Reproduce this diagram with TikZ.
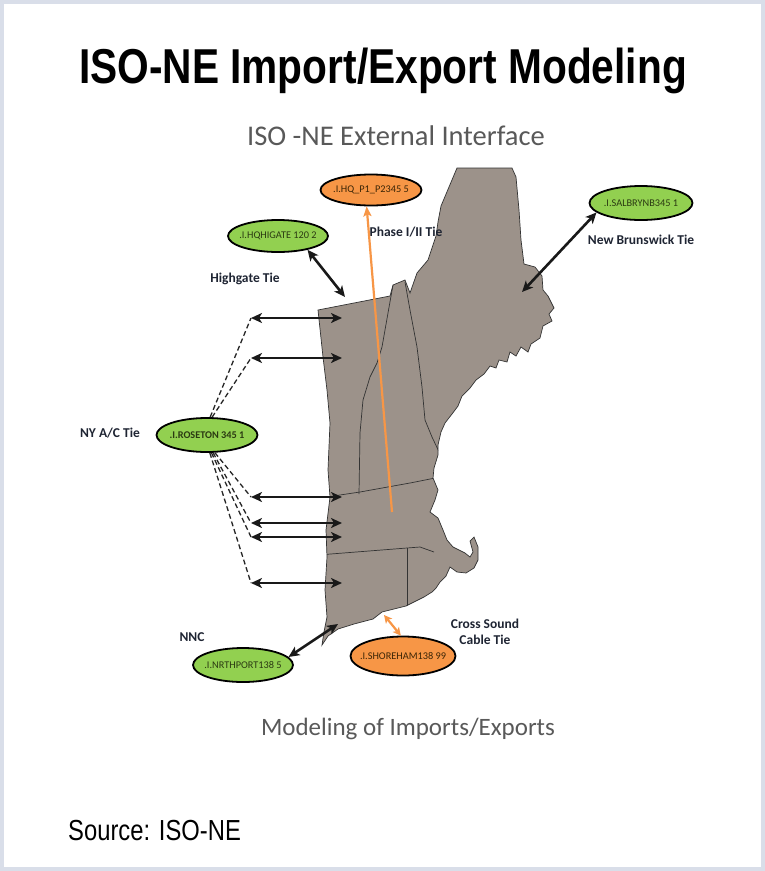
\documentclass[tikz,border=0pt]{standalone}
\usepackage{graphicx}
\usepackage{fontspec}
\setmainfont{Carlito}
\newfontfamily\arialfont{Liberation Sans}
\usetikzlibrary{shapes.geometric,arrows.meta}
\definecolor{framec}{HTML}{D9DEE9}
\definecolor{mapfill}{HTML}{9C928A}
\definecolor{grn}{HTML}{92D050}
\definecolor{org}{HTML}{F79646}
\definecolor{lbl}{HTML}{1F2533}
\definecolor{subc}{HTML}{595959}
\definecolor{gtext}{HTML}{2B3A12}
\definecolor{otext}{HTML}{3B2506}
\def\mapoutline{(318,310) -- (390,296) -- (393,285) -- (405,280) -- (410,293) -- (417,273) -- (428,260) -- (436,236) -- (438,222) -- (441,206) -- (449,187) -- (457,168) -- (512,168) -- (516,177) -- (519,210) -- (521,240) -- (524,264) -- (535,267) -- (542,276) -- (543,290) -- (548,296) -- (554,308) -- (549,314) -- (552,321) -- (543,326) -- (540,338) -- (531,344) -- (528,352) -- (521,347) -- (516,356) -- (510,352) -- (507,362) -- (499,360) -- (496,368) -- (490,366) -- (484,374) -- (476,380) -- (470,388) -- (462,396) -- (458,406) -- (452,414) -- (445,423) -- (441,432) -- (438,445) -- (438,455) -- (434,468) -- (433,478) -- (438,490) -- (435,500) -- (430,512) -- (438,518) -- (443,530) -- (447,540) -- (453,547) -- (465,553) -- (470,557) -- (473,552) -- (470,541) -- (474,537) -- (478,547) -- (478,560) -- (474,568) -- (466,573) -- (457,572) -- (450,567) -- (446,576) -- (440,582) -- (436,588) -- (432,592) -- (424,597) -- (414,602) -- (406,606) -- (394,609) -- (382,612) -- (373,619) -- (354,624) -- (338,629) -- (328,636) -- (322,645) -- (324,632) -- (327,617) -- (325,590) -- (327,557) -- (326,530) -- (330,497) -- (328,470) -- (330,423) -- (327,390) -- (323,357) -- cycle}
\tikzset{
  ell/.style={ellipse, draw=black, line width=1.8pt, inner sep=0pt, font=\fontsize{10.3}{11}\selectfont},
  gell/.style={ell, fill=grn, text=gtext, minimum width=100pt, minimum height=33pt},
  oell/.style={ell, fill=org, text=otext, minimum width=101pt, minimum height=31pt},
  lab/.style={font=\bfseries\fontsize{13.5}{15.5}\selectfont, text=lbl, align=center, inner sep=0pt},
  blk/.style={line width=2.6pt, black!90, {Stealth[length=11pt,width=10pt,inset=3pt]}-{Stealth[length=11pt,width=10pt,inset=3pt]}},
  dsh/.style={line width=1.3pt, black!85, dash pattern=on 5pt off 3pt},
  orgline/.style={line width=2.2pt, org},
  border/.style={line width=0.7pt, black!80}
}
\begin{document}
\begin{tikzpicture}[x=1pt,y=-1pt]
\useasboundingbox (0,0) rectangle (765,871);
\fill[framec] (0,0) rectangle (765,871);
\fill[white] (4,4) rectangle (761,867);
% titles
\node[anchor=base, inner sep=0pt] (title) at (383,83) {\scalebox{0.83}[1]{\arialfont\bfseries\fontsize{49}{55}\selectfont ISO-NE Import/Export Modeling}};
\node[anchor=base, inner sep=0pt, text=subc, font=\fontsize{28.5}{32}\selectfont] (sub) at (396,145) {ISO -NE External Interface};
\node[anchor=base, inner sep=0pt, text=subc, font=\fontsize{25}{30}\selectfont] (cap) at (408,735) {Modeling of Imports/Exports};
\node[anchor=base west, inner sep=0pt] (src) at (68,840) {\scalebox{0.82}[1]{\arialfont\fontsize{29}{33}\selectfont Source: ISO-NE}};
% map
\fill[mapfill, draw=black!80, line width=0.7pt] \mapoutline;
\begin{scope}
\clip \mapoutline;
\draw[border] (393,285) -- (388,313) -- (382,347) -- (377,363) -- (370,377) -- (363,400) -- (360,433) -- (359,494);
\draw[border] (405,282) -- (410,310) -- (417,347) -- (422,387) -- (425,420) -- (432,437) -- (442,458);
\draw[border] (320,498) -- (360,492) -- (410,483) -- (440,477);
\draw[border] (318,555) -- (407,548) -- (420,547) -- (434,552);
\draw[border] (407,548) -- (407,610);
\end{scope}
% ellipse nodes
\node[oell] (hqp) at (371,190) {\makebox[0pt]{.I.HQ\_P1\_P2345 5}};
\node[gell, minimum height=32pt] (hig) at (278,236) {\makebox[0pt]{.I.HQHIGATE 120 2}};
\node[gell, minimum width=103pt, minimum height=34pt] (sal) at (641,203) {\makebox[0pt]{.I.SALBRYNB345 1}};
\node[gell, minimum width=101pt, minimum height=34pt] (ros) at (207,435) {\makebox[0pt]{\bfseries .I.ROSETON 345 1}};
\node[gell, minimum height=34pt] (nrt) at (243,665) {\makebox[0pt]{.I.NRTHPORT138 5}};
\node[oell, minimum width=105pt, minimum height=39pt] (sho) at (403,656) {\makebox[0pt]{.I.SHOREHAM138 99}};
% labels
\node[lab] (lhg) at (245,279) {Highgate Tie};
\node[lab] (lph) at (406,232) {Phase I/II Tie};
\node[lab] (lnb) at (641,240) {New Brunswick Tie};
\node[lab] (lny) at (110,433) {NY A/C Tie};
\node[lab] (lnnc) at (192,637) {NNC};
\node[lab] (lcs) at (485,632) {Cross Sound\\Cable Tie};
% coordinates
\coordinate (phs) at (392,512);
\coordinate (hgE) at (345,297);
\coordinate (nbE) at (522,292);
\coordinate (nncE) at (338,624);
\coordinate (csE) at (384,615);
\coordinate (l1) at (251,318); \coordinate (r1) at (342,318);
\coordinate (l2) at (251,358); \coordinate (r2) at (342,358);
\coordinate (l3) at (251,497); \coordinate (r3) at (342,497);
\coordinate (l4) at (251,523); \coordinate (r4) at (342,523);
\coordinate (l5) at (251,537); \coordinate (r5) at (342,537);
\coordinate (l6) at (251,583); \coordinate (r6) at (342,583);
% connectors
\draw[orgline, -{Stealth[length=10pt,width=8pt,inset=2pt]}] (phs) -- (hqp.-105);
\draw[orgline, {Stealth[length=8pt,width=8pt,inset=2pt]}-{Stealth[length=8pt,width=8pt,inset=2pt]}] (sho.96) -- (csE);
\draw[blk] (hig.-25) -- (hgE);
\draw[blk] (sal.-168) -- (nbE);
\draw[blk] (nrt.10) -- (nncE);
\draw[blk] (l1) -- (r1);
\draw[blk] (l2) -- (r2);
\draw[blk] (l3) -- (r3);
\draw[blk] (l4) -- (r4);
\draw[blk] (l5) -- (r5);
\draw[blk] (l6) -- (r6);
\draw[dsh] (ros.80) -- (l1);
\draw[dsh] (ros.74) -- (l2);
\draw[dsh] (ros.-66) -- (l3);
\draw[dsh] (ros.-71) -- (l4);
\draw[dsh] (ros.-76) -- (l5);
\draw[dsh] (ros.-81) -- (l6);
\end{tikzpicture}
\end{document}
